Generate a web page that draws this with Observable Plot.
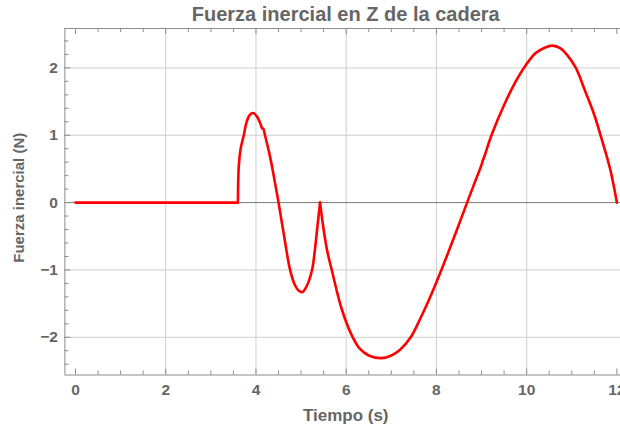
<!DOCTYPE html>
<html>
<head>
<meta charset="utf-8">
<script src="https://cdn.jsdelivr.net/npm/d3@7"></script>
<script src="https://cdn.jsdelivr.net/npm/@observablehq/plot@0.6"></script>
<style>
  html, body { margin: 0; padding: 0; background: #fff; }
  #chart svg { display: block; }
</style>
</head>
<body>
<div id="chart"></div>
<script>
// ---- Data ----
// tramo: 0 = reposo, 1 = primer pulso, 2 = oscilación final
const tramo = [0, 0,
  1, 1, 1, 1, 1, 1, 1, 1, 1, 1, 1, 1, 1, 1, 1, 1, 1, 1, 1, 1, 1, 1, 1, 1, 1, 1,
  2, 2, 2, 2, 2, 2, 2, 2, 2, 2, 2, 2, 2, 2, 2, 2, 2, 2, 2, 2, 2, 2, 2, 2, 2, 2, 2, 2, 2, 2, 2, 2, 2, 2, 2, 2, 2, 2, 2];
const tiempo = [0, 3.6,
  3.6, 3.62, 3.66, 3.73, 3.79, 3.86, 3.94, 4.02, 4.1, 4.14, 4.16, 4.2, 4.3, 4.38, 4.5,
  4.62, 4.75, 4.86, 4.95, 5.03, 5.1, 5.17, 5.25, 5.3, 5.36, 5.42,
  5.42, 5.5, 5.58, 5.68, 5.9, 6.13, 6.3, 6.5, 6.78, 7.0, 7.2, 7.43, 7.63, 7.83, 8.11, 8.44, 8.68,
  8.85, 9.0, 9.03, 9.06, 9.22, 9.5, 9.75, 9.98, 10.2, 10.4, 10.57, 10.75, 10.9, 11.09, 11.3, 11.5, 11.66, 11.85, 12];
const fuerza = [0, 0,
  0, 0.55, 0.8, 1.0, 1.19, 1.3, 1.33, 1.28, 1.17, 1.1, 1.1, 1.0, 0.72, 0.45, 0,
  -0.48, -0.98, -1.22, -1.31, -1.33, -1.27, -1.17, -0.98, -0.74, -0.37, 0,
  0, -0.4, -0.72, -1.0, -1.58, -1.98, -2.17, -2.27, -2.31, -2.27, -2.18, -2.0, -1.74, -1.45, -1.0, -0.43, 0,
  0.3, 0.56, 0.63, 0.68, 1.0, 1.45, 1.79, 2.04, 2.22, 2.3, 2.33, 2.29, 2.19, 2.0, 1.65, 1.3, 0.95, 0.5, 0];

const xTicks = [0, 2, 4, 6, 8, 10, 12];
const xTickLabels = ["0", "2", "4", "6", "8", "10", "12"];
const yTicks = [-2, -1, 0, 1, 2];
const yTickLabels = ["\u22122", "\u22121", "0", "1", "2"];
const xGrid = [2, 4, 6, 8, 10];
const yGrid = [-2, -1, 1, 2];

const titulo = "Fuerza inercial en Z de la cadera";
const etiquetaX = "Tiempo (s)";
const etiquetaY = "Fuerza inercial (N)";

// ---- Layout ----
const W = 620, H = 432;
const mTop = 28, mBottom = 57.5, mLeft = 64.4, mRight = 0;
const innerW = W - mLeft - mRight, innerH = H - mTop - mBottom;
const xDomain = [-0.235, 12.08];
const yDomain = [-2.56, 2.585];

const datos = tiempo.map((t, i) => ({t, f: fuerza[i], s: tramo[i]}));
const xMinor = d3.range(0, 12.01, 0.5).filter(v => !xTicks.includes(v));
const yMinor = d3.range(-2.4, 2.41, 0.2).map(v => Math.round(v * 10) / 10).filter(v => !yTicks.includes(v));

const gray = "#666666";
const axisGray = "#8c8c8c";
const fontFam = "'Liberation Sans', Arial, Helvetica, sans-serif";

const chart = Plot.plot({
  width: W, height: H,
  marginTop: mTop, marginBottom: mBottom, marginLeft: mLeft, marginRight: mRight,
  style: {fontFamily: fontFam, background: "white", overflow: "visible"},
  x: {domain: xDomain, axis: null},
  y: {domain: yDomain, axis: null},
  marks: [
    // grid
    Plot.ruleX(xGrid, {stroke: "#cfcfcf", strokeWidth: 1}),
    Plot.ruleY(yGrid, {stroke: "#cfcfcf", strokeWidth: 1}),
    Plot.ruleY([0], {stroke: "#7a7a7a", strokeWidth: 1}),
    // frame: left, bottom, top
    Plot.ruleX([xDomain[0]], {stroke: axisGray, strokeWidth: 1}),
    Plot.ruleY([yDomain[0]], {stroke: axisGray, strokeWidth: 1}),
    Plot.ruleY([yDomain[1]], {stroke: axisGray, strokeWidth: 1}),
    // ticks bottom (inward)
    Plot.tickX(xTicks, {stroke: axisGray, insetTop: innerH - 6}),
    Plot.tickX(xMinor, {stroke: axisGray, insetTop: innerH - 4}),
    // ticks top (inward)
    Plot.tickX(xTicks, {stroke: axisGray, insetBottom: innerH - 6}),
    Plot.tickX(xMinor, {stroke: axisGray, insetBottom: innerH - 4}),
    // ticks left (inward)
    Plot.tickY(yTicks, {stroke: axisGray, insetRight: innerW - 6}),
    Plot.tickY(yMinor, {stroke: axisGray, insetRight: innerW - 4}),
    // tick labels
    Plot.text(xTicks, {x: d => d, text: (d, i) => xTickLabels[i], frameAnchor: "bottom", dy: 20,
      fill: gray, fontSize: 15.5, fontWeight: "bold"}),
    Plot.text(yTicks, {y: d => d, text: (d, i) => yTickLabels[i], frameAnchor: "left", dx: -7, textAnchor: "end",
      fill: gray, fontSize: 15.5, fontWeight: "bold"}),
    // data line (segments joined at the sharp corners)
    Plot.line(datos, {x: "t", y: "f", z: "s", stroke: "#ff0000", strokeWidth: 2.6, strokeLinejoin: "round",
      strokeLinecap: "round", curve: "catmull-rom"}),
    // axis labels and title
    Plot.text([etiquetaX], {frameAnchor: "bottom", dy: 46, dx: 3, fill: gray, fontSize: 17, fontWeight: "bold"}),
    Plot.text([etiquetaY], {frameAnchor: "left", dx: -46, dy: -4, rotate: -90, textAnchor: "middle",
      fill: gray, fontSize: 15, fontWeight: "bold"}),
    Plot.text([titulo], {frameAnchor: "top", dy: -22, dx: 3, fill: gray, fontSize: 20, fontWeight: "bold"})
  ]
});
document.getElementById("chart").appendChild(chart);
</script>
</body>
</html>
